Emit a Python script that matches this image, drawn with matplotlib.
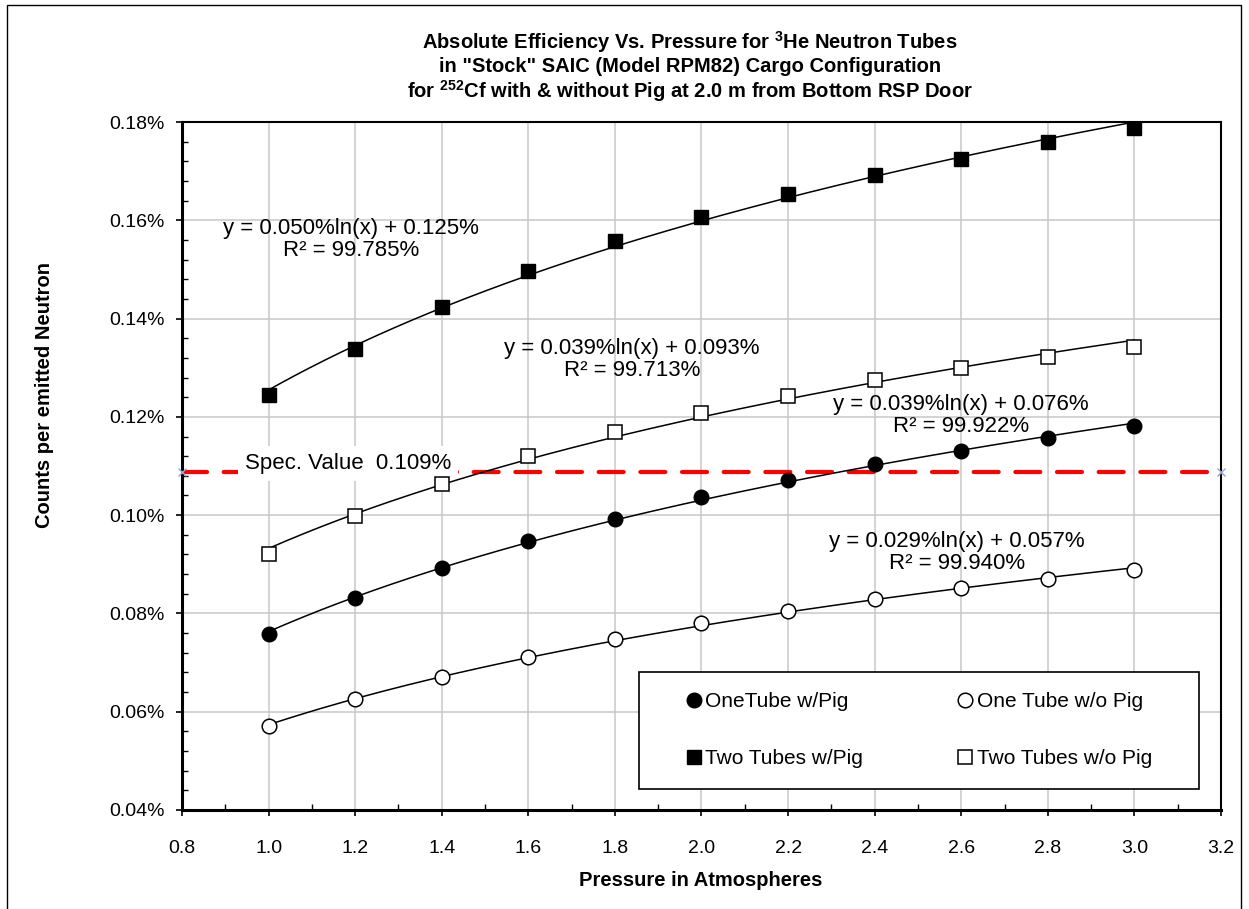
import numpy as np
import matplotlib
matplotlib.use("Agg")
import matplotlib.pyplot as plt
from matplotlib.patches import Rectangle
from matplotlib.ticker import MultipleLocator, FuncFormatter

plt.rcParams['font.family'] = ['Liberation Sans', 'DejaVu Sans']
plt.rcParams['mathtext.fontset'] = 'custom'
plt.rcParams['mathtext.rm'] = 'Liberation Sans'
plt.rcParams['mathtext.bf'] = 'Liberation Sans:bold'
plt.rcParams['mathtext.it'] = 'Liberation Sans:italic'

# ---------------- data (values in %) ----------------
pressure = [1.0, 1.2, 1.4, 1.6, 1.8, 2.0, 2.2, 2.4, 2.6, 2.8, 3.0]
one_tube_pig = [0.0759, 0.0831, 0.0893, 0.0947, 0.0993, 0.1036, 0.1071, 0.1104, 0.1131, 0.1157, 0.1181]
one_tube_nopig = [0.0570, 0.0625, 0.0671, 0.0712, 0.0748, 0.0780, 0.0804, 0.0829, 0.0851, 0.0871, 0.0888]
two_tubes_pig = [0.1244, 0.1339, 0.1423, 0.1497, 0.1558, 0.1607, 0.1653, 0.1692, 0.1725, 0.1759, 0.1788]
two_tubes_nopig = [0.0921, 0.0999, 0.1063, 0.1120, 0.1170, 0.1207, 0.1243, 0.1274, 0.1300, 0.1322, 0.1343]
spec_value = 0.1087
spec_x = [0.8, 3.2]

labels = ["OneTube w/Pig", "One Tube w/o Pig", "Two Tubes w/Pig", "Two Tubes w/o Pig"]
fit_texts = [
    "y = 0.039%ln(x) + 0.076%\nR\u00b2 = 99.922%",
    "y = 0.029%ln(x) + 0.057%\nR\u00b2 = 99.940%",
    "y = 0.050%ln(x) + 0.125%\nR\u00b2 = 99.785%",
    "y = 0.039%ln(x) + 0.093%\nR\u00b2 = 99.713%",
]
fit_text_pos = [(2.60, 0.1203), (2.59, 0.0924), (1.19, 0.1561), (1.84, 0.1316)]

W, H = 1249, 909
fig = plt.figure(figsize=(W / 100, H / 100), dpi=100)
ax = fig.add_axes([182 / W, 1 - 810 / H, (1221 - 182) / W, (810 - 122) / H])

# outer chart frame
fig.patches.append(Rectangle((7 / W, -0.02), (1241 - 7) / W, 1.02 - 5 / H,
                             transform=fig.transFigure, fill=False,
                             edgecolor='black', linewidth=1.0))

x = np.array(pressure)
xs = np.linspace(1.0, 3.0, 200)
series = [one_tube_pig, one_tube_nopig, two_tubes_pig, two_tubes_nopig]
styles = [
    dict(marker='o', markersize=10.5, markerfacecolor='black', markeredgecolor='black'),
    dict(marker='o', markersize=10.5, markerfacecolor='white', markeredgecolor='black', markeredgewidth=1.1),
    dict(marker='s', markersize=10.5, markerfacecolor='black', markeredgecolor='black'),
    dict(marker='s', markersize=10.5, markerfacecolor='white', markeredgecolor='black', markeredgewidth=1.1),
]
handles = []
for ys, st, lab in zip(series, styles, labels):
    b, a = np.polyfit(np.log(x), np.array(ys), 1)
    ax.plot(xs, b * np.log(xs) + a, color='black', linewidth=1.1, zorder=3)
    h, = ax.plot(x, ys, linestyle='none', zorder=4, label=lab, **st)
    handles.append(h)

# spec line
ax.plot(spec_x, [spec_value, spec_value], color='#FF0000', linewidth=3.0,
        dashes=(6, 4), dash_capstyle='round', zorder=2.5)
ax.plot(spec_x, [spec_value, spec_value], linestyle='none', marker='x',
        markersize=6, markeredgecolor='#9AA4D0', markeredgewidth=1.0,
        clip_on=False, zorder=5)
ax.text(1.184, 0.1105, "Spec. Value  0.109%", fontsize=16, ha='center', va='center',
        bbox=dict(facecolor='white', edgecolor='none', pad=5), zorder=2.7)

for t, (tx, ty) in zip(fit_texts, fit_text_pos):
    ax.text(tx, ty, t, fontsize=16, ha='center', va='center', linespacing=1.05, zorder=6)

ax.set_xlim(0.8, 3.2)
ax.set_ylim(0.04, 0.18)
ax.xaxis.set_major_locator(MultipleLocator(0.2))
ax.xaxis.set_minor_locator(MultipleLocator(0.1))
ax.yaxis.set_major_locator(MultipleLocator(0.02))
ax.yaxis.set_minor_locator(MultipleLocator(0.004))
ax.xaxis.set_major_formatter(FuncFormatter(lambda v, p: f"{v:.1f}"))
ax.yaxis.set_major_formatter(FuncFormatter(lambda v, p: f"{v:.2f}%"))
ax.grid(True, which='major', color='#C8C8C8', linewidth=1.1, zorder=0)
ax.set_axisbelow(True)
ax.tick_params(axis='both', which='major', direction='out', length=4.3, width=1.2,
               labelsize=14, color='black')
ax.tick_params(axis='x', which='major', pad=17)
ax.tick_params(axis='y', which='major', pad=8)
ax.tick_params(axis='both', which='minor', direction='in', length=4, width=1.0)
for s in ['left', 'bottom']:
    ax.spines[s].set_linewidth(2.2)
for s in ['top', 'right']:
    ax.spines[s].set_linewidth(1.5)

# legend box + legend (row-wise order like the original)
ax.add_patch(Rectangle((0.440, 0.0305), 0.539, 0.1705, transform=ax.transAxes,
                       facecolor='white', edgecolor='black', linewidth=1.2, zorder=6))
order = [0, 2, 1, 3]
leg = ax.legend(handles=[handles[i] for i in order], ncol=2, loc='center',
                bbox_to_anchor=(0.71, 0.116), frameon=False, fontsize=15,
                handlelength=0.6, handletextpad=0.25, columnspacing=4.6,
                labelspacing=1.8, borderpad=0.2)
leg.set_zorder(7)

fig.text(45 / W, 1 - 395 / H, "Counts per emitted Neutron", rotation=90,
         fontsize=14.5, fontweight='bold', ha='center', va='center')
fig.text(701 / W, 1 - 880 / H, "Pressure in Atmospheres", fontsize=14.5,
         fontweight='bold', ha='center', va='center')

title_lines = [
    r"Absolute Efficiency Vs. Pressure for $^{\mathbf{3}}$He Neutron Tubes",
    r'in "Stock" SAIC (Model RPM82) Cargo Configuration',
    r"for $^{\mathbf{252}}$Cf with & without Pig at 2.0 m from Bottom RSP Door",
]
for ty, tl in zip([42.0, 66.5, 91.5], title_lines):
    fig.text(690 / W, 1 - ty / H, tl, fontsize=14.5, fontweight='bold',
             ha='center', va='center')

fig.savefig("out.png", dpi=100)
